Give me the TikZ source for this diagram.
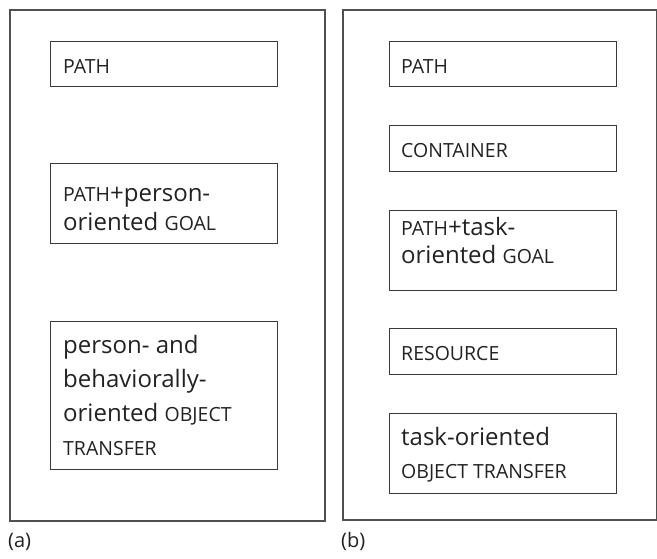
\documentclass[tikz,border=0pt]{standalone}
\usepackage{fontspec}
\setmainfont{Open Sans}
\definecolor{frame}{HTML}{505050}
\definecolor{boxline}{HTML}{3A3A3A}
\definecolor{ink}{HTML}{222222}
\newcommand{\capsz}[1]{{\fontsize{19.5}{20}\selectfont #1}}
\tikzset{
  panel/.style={draw=frame, line width=2.2pt, inner sep=0pt},
  cbox/.style={draw=boxline, line width=1.3pt, inner sep=0pt, minimum width=227pt},
  txt/.style={anchor=base west, inner sep=0pt, text=ink, align=left, font=\fontsize{24}{29}\selectfont}
}
\begin{document}
\begin{tikzpicture}[x=1pt,y=-1pt]
\useasboundingbox (0,0) rectangle (657,558);
% panels
\node[panel, minimum width=315pt, minimum height=511pt, anchor=north west] (pa) at (9,9) {};
\node[panel, minimum width=314pt, minimum height=510pt, anchor=north west] (pb) at (342,9) {};
% left boxes
\node[cbox, minimum height=45pt, anchor=north west] (a1) at (50,41) {};
\node[cbox, minimum height=80pt, anchor=north west] (a2) at (50,163) {};
\node[cbox, minimum height=148pt, anchor=north west] (a3) at (50,321) {};
% right boxes
\node[cbox, minimum height=45pt, anchor=north west] (b1) at (389,41) {};
\node[cbox, minimum height=46pt, anchor=north west] (b2) at (389,125) {};
\node[cbox, minimum height=80pt, anchor=north west] (b3) at (389,210) {};
\node[cbox, minimum height=46pt, anchor=north west] (b4) at (389,328) {};
\node[cbox, minimum height=80pt, anchor=north west] (b5) at (389,413) {};
% texts left (anchor = baseline of last line)
\node[txt] (ta1) at (63,73) {\capsz{PATH}};
\node[txt] (ta2) at (63,230) {\capsz{PATH}+person-\\oriented \capsz{GOAL}};
\node[txt, font=\fontsize{24}{34}\selectfont] (ta3) at (63,455) {person- and\\behaviorally-\\oriented \capsz{OBJECT}\\\capsz{TRANSFER}};
% texts right
\node[txt] (tb1) at (401,73) {\capsz{PATH}};
\node[txt] (tb2) at (401,157) {\capsz{CONTAINER}};
\node[txt, font=\fontsize{24}{28}\selectfont] (tb3) at (401,263) {\capsz{PATH}+task-\\oriented \capsz{GOAL}};
\node[txt] (tb4) at (401,360) {\capsz{RESOURCE}};
\node[txt, font=\fontsize{24}{33}\selectfont] (tb5) at (401,478) {task-oriented\\\capsz{OBJECT TRANSFER}};
% labels
\node[txt, font=\fontsize{20}{22}\selectfont] (la) at (8,547) {(a)};
\node[txt, font=\fontsize{20}{22}\selectfont] (lb) at (341,547) {(b)};
\end{tikzpicture}
\end{document}
